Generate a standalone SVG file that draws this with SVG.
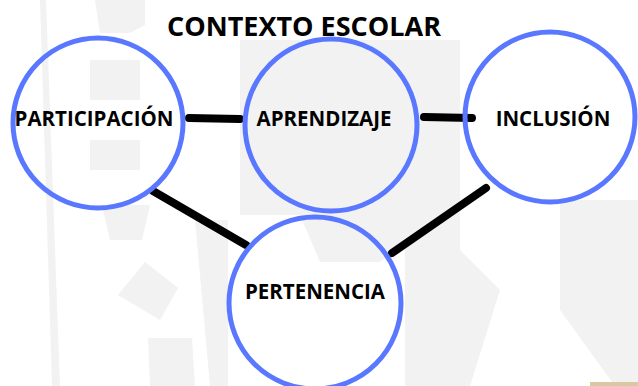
<svg xmlns="http://www.w3.org/2000/svg" width="638" height="386" viewBox="0 0 638 386">
<style>
.bg{fill:#f2f2f2}
.node{fill:none;stroke:#5a78ff;stroke-width:5}
.lbl{font-family:"Open Sans","DejaVu Sans",sans-serif;font-weight:700;fill:#000;text-anchor:middle}
.edge{stroke:#000;stroke-width:8;stroke-linecap:round;fill:none}
</style>
<rect width="638" height="386" fill="#ffffff"/>
<g id="background">
<path class="bg" d="M40 0 L46 0 L60 386 L52 386 Z"/>
<path class="bg" d="M95 0 L145 0 L145 25 L130 33 L100 33 Z"/>
<path class="bg" d="M240 40 L460 40 L460 386 L405 386 L405 245 L380 262 L320 262 L300 215 L240 215 Z"/>
<path class="bg" d="M102 205 L150 205 L142 240 L110 240 Z"/>
<path class="bg" d="M145 262 L178 288 L160 320 L118 295 Z"/>
<path class="bg" d="M148 338 L192 338 L195 386 L150 386 Z"/>
<path class="bg" d="M195 220 L228 220 L228 386 L210 386 Z"/>
<path class="bg" d="M460 250 L500 290 L470 386 L460 386 Z"/>
<path class="bg" d="M560 200 L638 200 L638 386 L615 386 L560 310 Z"/>
<path class="bg" d="M90 60 L140 60 L140 100 L90 100 Z"/>
<path class="bg" d="M90 140 L140 140 L140 170 L90 170 Z"/>
<rect x="590" y="382" width="48" height="4" fill="#d9c9a3"/>
</g>
<text class="lbl" x="304" y="36" font-size="27">CONTEXTO ESCOLAR</text>
<g id="connectors">
<line class="edge" x1="189" y1="118" x2="240" y2="119"/>
<line class="edge" x1="424" y1="117" x2="472" y2="118"/>
<line class="edge" x1="153" y1="191" x2="246" y2="245"/>
<line class="edge" x1="486" y1="188" x2="392" y2="253"/>
</g>
<g id="participacion">
<circle class="node" cx="98" cy="123" r="85"/>
<text class="lbl" x="94" y="126" font-size="20.5">PARTICIPACIÓN</text>
</g>
<g id="aprendizaje">
<circle class="node" cx="331" cy="125" r="86"/>
<text class="lbl" x="324" y="126" font-size="20.5">APRENDIZAJE</text>
</g>
<g id="inclusion">
<circle class="node" cx="550" cy="117" r="85"/>
<text class="lbl" x="553" y="126" font-size="20.5">INCLUSIÓN</text>
</g>
<g id="pertenencia">
<circle class="node" cx="315" cy="303" r="86"/>
<text class="lbl" x="315" y="299" font-size="20.5">PERTENENCIA</text>
</g>
</svg>
